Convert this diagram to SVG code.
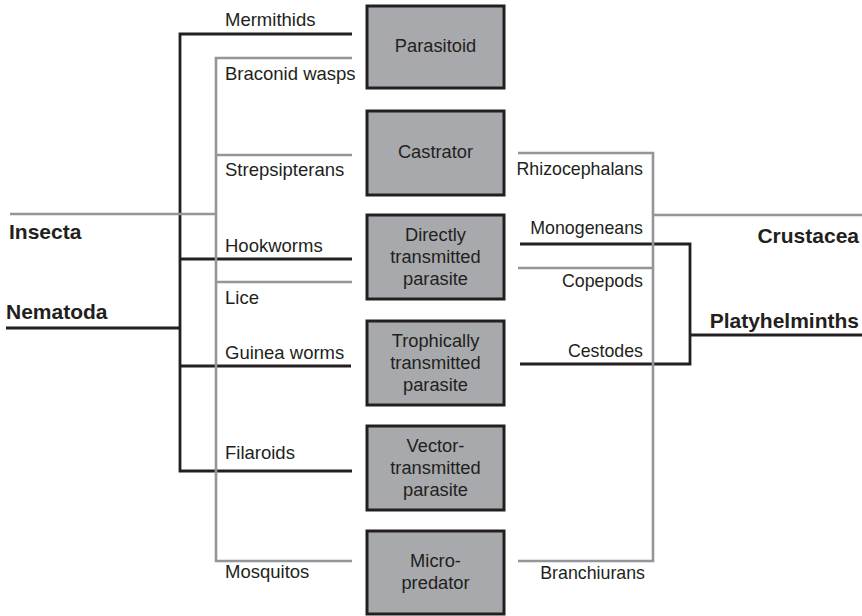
<svg xmlns="http://www.w3.org/2000/svg" width="862" height="616" viewBox="0 0 862 616">
<style>
.box{fill:#a7a9ac;stroke:#231f20;stroke-width:3}
.bt{font-family:"Liberation Sans",Arial,sans-serif;font-size:18.3px;fill:#231f20;text-anchor:middle}
.lb{font-family:"Liberation Sans",Arial,sans-serif;font-size:18.5px;fill:#231f20}
.rb{font-family:"Liberation Sans",Arial,sans-serif;font-size:17.8px;fill:#231f20;text-anchor:end}
.gb{font-family:"Liberation Sans",Arial,sans-serif;font-size:21px;font-weight:bold;fill:#231f20}
.blk{fill:none;stroke:#231f20;stroke-width:2.8}
.gry{fill:none;stroke:#939598;stroke-width:2.6}
</style>
<g id="connectors">
<path class="blk" d="M352,34 H180 V471 H352 M180,259 H352 M180,366 H351 M6,328 H180"/>
<path class="blk" d="M520,244 H690 V364 H520 M690,335 H862"/>
<path class="gry" d="M352,58 H216 V561 H352 M216,155 H352 M216,282 H352 M10,214 H216"/>
<path class="gry" d="M518,153 H653 V561 H518 M518,268 H653 M653,215 H862"/>
</g>
<g id="labels">
<text class="lb" x="225" y="26">Mermithids</text>
<text class="lb" x="225" y="80">Braconid wasps</text>
<text class="lb" x="225" y="176">Strepsipterans</text>
<text class="lb" x="225" y="252">Hookworms</text>
<text class="lb" x="225" y="304">Lice</text>
<text class="lb" x="225" y="359">Guinea worms</text>
<text class="lb" x="225" y="459">Filaroids</text>
<text class="lb" x="225" y="578">Mosquitos</text>
<text class="gb" x="9" y="239">Insecta</text>
<text class="gb" x="6" y="319">Nematoda</text>
<text class="rb" x="643" y="175">Rhizocephalans</text>
<text class="rb" x="643" y="234">Monogeneans</text>
<text class="rb" x="643" y="287">Copepods</text>
<text class="rb" x="643" y="357">Cestodes</text>
<text class="rb" x="645" y="579">Branchiurans</text>
<text class="gb" x="859" y="243" text-anchor="end">Crustacea</text>
<text class="gb" x="859" y="328" text-anchor="end">Platyhelminths</text>
</g>
<g id="parasitoid"><rect class="box" x="367" y="6" width="137" height="82"/><text class="bt" x="435.5" y="52">Parasitoid</text></g>
<g id="castrator"><rect class="box" x="367" y="111" width="137" height="84"/><text class="bt" x="435.5" y="158">Castrator</text></g>
<g id="direct"><rect class="box" x="367" y="215" width="137" height="84"/><text class="bt" x="435.5" y="241">Directly</text><text class="bt" x="435.5" y="263">transmitted</text><text class="bt" x="435.5" y="285">parasite</text></g>
<g id="trophic"><rect class="box" x="367" y="321" width="137" height="84"/><text class="bt" x="435.5" y="347">Trophically</text><text class="bt" x="435.5" y="369">transmitted</text><text class="bt" x="435.5" y="391">parasite</text></g>
<g id="vector"><rect class="box" x="367" y="426" width="137" height="84"/><text class="bt" x="435.5" y="452">Vector-</text><text class="bt" x="435.5" y="474">transmitted</text><text class="bt" x="435.5" y="496">parasite</text></g>
<g id="micro"><rect class="box" x="367" y="531" width="137" height="83"/><text class="bt" x="435.5" y="567">Micro-</text><text class="bt" x="435.5" y="589">predator</text></g>
</svg>
